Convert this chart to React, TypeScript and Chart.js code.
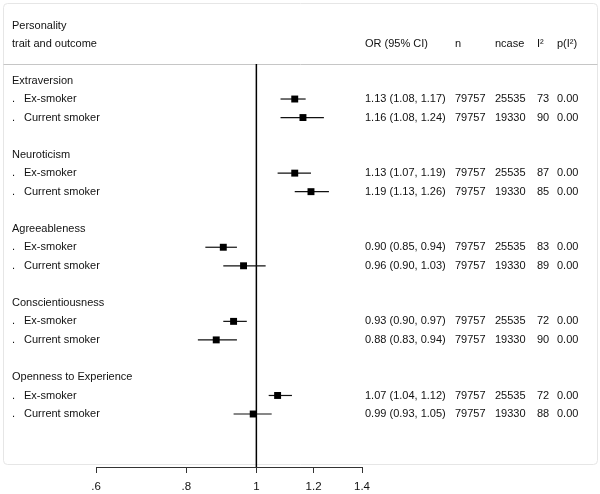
import React, { useEffect, useRef } from "react";
import { Chart, registerables } from "chart.js";

Chart.register(...registerables);

const traits = ["Extraversion", "Neuroticism", "Agreeableness", "Conscientiousness", "Openness to Experience"];
const outcomes = ["Ex-smoker", "Current smoker"];
const orValues = [1.13, 1.16, 1.13, 1.19, 0.9, 0.96, 0.93, 0.88, 1.07, 0.99];
const ciLow = [1.08, 1.08, 1.07, 1.13, 0.85, 0.9, 0.9, 0.83, 1.04, 0.93];
const ciHigh = [1.17, 1.24, 1.19, 1.26, 0.94, 1.03, 0.97, 0.94, 1.12, 1.05];
const nValues = [79757, 79757, 79757, 79757, 79757, 79757, 79757, 79757, 79757, 79757];
const ncaseValues = [25535, 19330, 25535, 19330, 25535, 19330, 25535, 19330, 25535, 19330];
const i2Values = [73, 90, 87, 85, 83, 89, 72, 90, 72, 88];
const pI2Values = ["0.00", "0.00", "0.00", "0.00", "0.00", "0.00", "0.00", "0.00", "0.00", "0.00"];
const tickValues = [0.6, 0.8, 1, 1.2, 1.4];
const tickLabels = [".6", ".8", "1", "1.2", "1.4"];
const headerLeft = ["Personality", "trait and outcome"];
const headerCols = ["OR (95% CI)", "n", "ncase", "I²", "p(I²)"];

const FONT = "11px 'Liberation Sans', Arial, sans-serif";
const TEXT_COLOR = "#111";
const COL_X = [365, 455, 495, 537, 557];

const rowOf = (k: number) => 4 * Math.floor(k / 2) + 1 + (k % 2);

const forestPlugin = {
  id: "forest",
  beforeDraw(chart: any) {
    const ctx = chart.ctx;
    const { top } = chart.chartArea;
    ctx.save();
    ctx.fillStyle = "#fff";
    ctx.fillRect(0, 0, chart.width, chart.height);
    ctx.strokeStyle = "#e6e6e6";
    ctx.lineWidth = 1;
    ctx.beginPath();
    if (ctx.roundRect) ctx.roundRect(3.5, 3.5, 594, 461, 4);
    else ctx.rect(3.5, 3.5, 594, 461);
    ctx.stroke();
    ctx.strokeStyle = "#c6c6c6";
    ctx.beginPath();
    ctx.moveTo(3.5, Math.round(top) + 0.5);
    ctx.lineTo(597.5, Math.round(top) + 0.5);
    ctx.stroke();
    ctx.restore();
  },
  beforeDatasetsDraw(chart: any) {
    const { ctx, chartArea, scales } = chart;
    const x = scales.x;
    const y = scales.y;
    ctx.save();
    const x1 = x.getPixelForValue(1);
    ctx.strokeStyle = "#000";
    ctx.lineWidth = 1.5;
    ctx.beginPath();
    ctx.moveTo(x1, chartArea.top);
    ctx.lineTo(x1, chartArea.bottom);
    ctx.stroke();
    ctx.strokeStyle = "#111";
    ctx.lineWidth = 1.2;
    orValues.forEach((_, k) => {
      const py = y.getPixelForValue(rowOf(k));
      ctx.beginPath();
      ctx.moveTo(x.getPixelForValue(ciLow[k]), py);
      ctx.lineTo(x.getPixelForValue(ciHigh[k]), py);
      ctx.stroke();
    });
    ctx.restore();
  },
  afterDraw(chart: any) {
    const { ctx, scales } = chart;
    const y = scales.y;
    ctx.save();
    ctx.font = FONT;
    ctx.fillStyle = TEXT_COLOR;
    ctx.textBaseline = "middle";
    ctx.textAlign = "left";
    ctx.fillText(headerLeft[0], 12, y.getPixelForValue(-3) + 1);
    ctx.fillText(headerLeft[1], 12, y.getPixelForValue(-2) + 1);
    headerCols.forEach((h, i) => ctx.fillText(h, COL_X[i], y.getPixelForValue(-2) + 1));
    traits.forEach((t, ti) => {
      ctx.fillText(t, 12, y.getPixelForValue(4 * ti));
    });
    orValues.forEach((v, k) => {
      const py = y.getPixelForValue(rowOf(k));
      ctx.fillText(".", 12, py);
      ctx.fillText(outcomes[k % 2], 24, py);
      const orText = `${v.toFixed(2)} (${ciLow[k].toFixed(2)}, ${ciHigh[k].toFixed(2)})`;
      ctx.fillText(orText, COL_X[0], py);
      ctx.fillText(String(nValues[k]), COL_X[1], py);
      ctx.fillText(String(ncaseValues[k]), COL_X[2], py);
      ctx.fillText(String(i2Values[k]), COL_X[3], py);
      ctx.fillText(pI2Values[k], COL_X[4], py);
    });
    ctx.restore();
  },
};

export default function App() {
  const ref = useRef<HTMLCanvasElement | null>(null);
  useEffect(() => {
    document.body.style.margin = "0";
    if (!ref.current) return;
    const chart = new Chart(ref.current, {
      type: "scatter",
      data: {
        datasets: [
          {
            data: orValues.map((v, k) => ({ x: v, y: rowOf(k) })),
            backgroundColor: "#000",
            borderColor: "#000",
            pointStyle: "rect",
            pointRadius: 4.9,
            pointBorderWidth: 0,
            pointHoverRadius: 4.9,
          },
        ],
      },
      options: {
        animation: false,
        responsive: false,
        devicePixelRatio: 1,
        layout: { padding: { left: 96, right: 238, top: 64, bottom: 0 } },
        plugins: { legend: { display: false }, tooltip: { enabled: false } },
        scales: {
          x: {
            type: "logarithmic",
            min: 0.6,
            max: 1.4,
            bounds: "data",
            afterBuildTicks: (s: any) => {
              s.ticks = tickValues.map((v) => ({ value: v }));
            },
            afterFit: (s: any) => {
              s.height = 27;
            },
            grid: { drawOnChartArea: false, drawTicks: true, tickLength: 6, color: "#333", lineWidth: 1 },
            border: { display: true, color: "#333", width: 1 },
            ticks: {
              callback: (_v: any, i: number) => tickLabels[i],
              font: { family: "'Liberation Sans', Arial, sans-serif", size: 11.5 },
              color: TEXT_COLOR,
              padding: 7,
              maxRotation: 0,
              autoSkip: false,
            },
          },
          y: { type: "linear", display: false, reverse: true, min: -0.89, max: 20.86 },
        },
      },
      plugins: [forestPlugin],
    } as any);
    return () => chart.destroy();
  }, []);
  return (
    <div style={{ width: 600, height: 494 }}>
      <canvas ref={ref} width={600} height={494} style={{ display: "block" }} />
    </div>
  );
}
